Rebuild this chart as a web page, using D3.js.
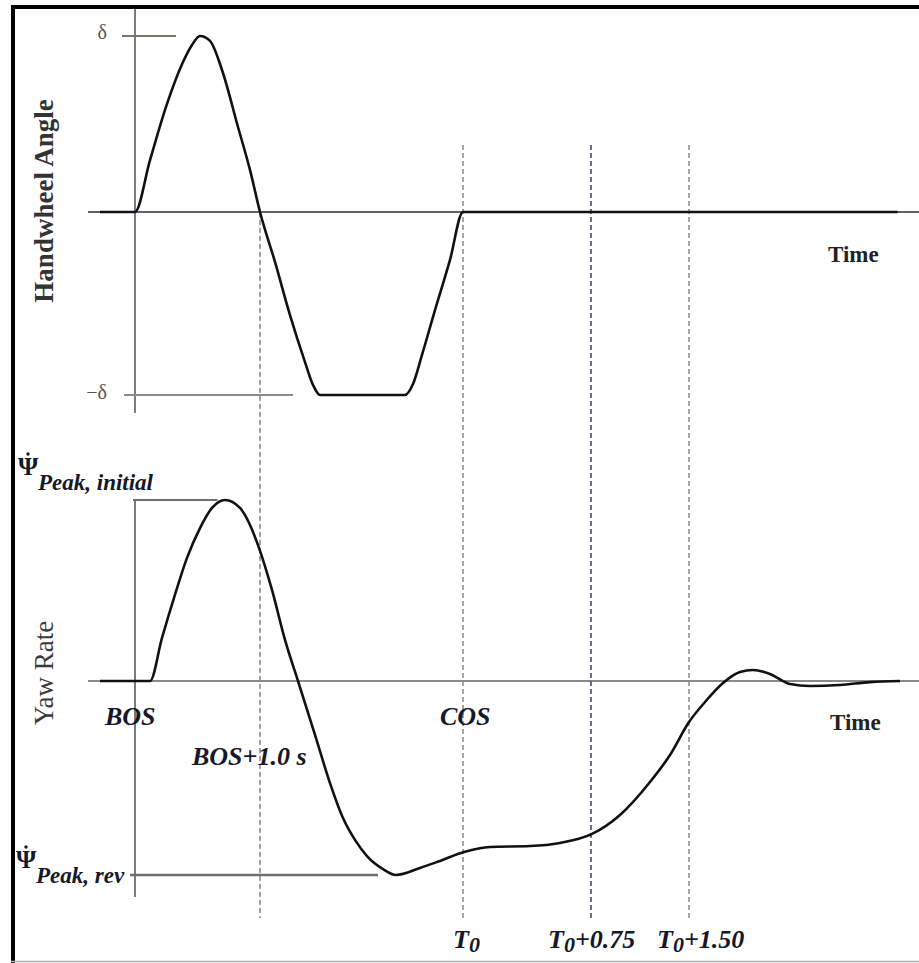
<!DOCTYPE html>
<html>
<head>
<meta charset="utf-8">
<script src="https://cdn.jsdelivr.net/npm/d3@7"></script>
<style>
  html, body { margin: 0; padding: 0; background: #fff; }
  svg { display: block; }
  text { font-family: "Liberation Serif", "DejaVu Serif", serif; }
</style>
</head>
<body>
<script>
// Time axis in seconds after BOS (schematic), amplitudes normalised
const handwheelTime  = [-0.28, 0, 0.12, 0.256, 0.384, 0.456, 0.52, 0.6, 0.696, 0.824, 0.92, 1.0,
                        1.12, 1.24, 1.36, 1.424, 1.48, 2.16, 2.224, 2.296, 2.4, 2.52, 2.624, 6.1];
const handwheelAngle = [0, 0, 0.295, 0.614, 0.852, 0.949, 1.0, 0.972, 0.807, 0.483, 0.239, 0,
                        -0.273, -0.563, -0.820, -0.945, -1, -1, -0.940, -0.781, -0.536, -0.262, 0, 0];

const yawTime = [-0.28, 0.12, 0.216, 0.312, 0.416, 0.52, 0.616, 0.72, 0.84, 0.92, 0.984, 1.096, 1.2, 1.304,
                 1.44, 1.56, 1.664, 1.76, 1.856, 1.984, 2.088,
                 2.28, 2.44, 2.632, 2.84, 3.16, 3.4, 3.656, 3.88, 4.12, 4.28, 4.432, 4.56, 4.704,
                 4.84, 4.944, 5.08, 5.24, 5.4, 5.64, 5.88, 6.12];
const yawRate = [0, 0, 0.238, 0.459, 0.680, 0.845, 0.956, 1.0, 0.956, 0.862, 0.751, 0.503, 0.227, 0,
                 -0.298, -0.564, -0.757, -0.878, -0.967, -1.039, -1.072,
                 -1.033, -0.994, -0.945, -0.917, -0.912, -0.895, -0.845, -0.740, -0.558, -0.409, -0.227, -0.116, -0.011,
                 0.050, 0.061, 0.039, -0.017, -0.028, -0.022, -0.006, 0];

const steerAmplitude = 1.0;        // δ
const yawPeakInitial = 1.0;        // Ψ̇ Peak, initial
const yawPeakRev = -1.072;         // Ψ̇ Peak, rev

const markerTimes  = [1.0, 2.624, 3.648, 4.432];   // BOS+1.0 s, T0, T0+0.75, T0+1.50
const markerLabels = ["", "T", "T", "T"];
const markerSuffix = ["", "", "+0.75", "+1.50"];

const W = 919, H = 963;
const svg = d3.select("body").append("svg").attr("width", W).attr("height", H);

const x = d3.scaleLinear().domain([0, 1]).range([135, 260]);
const yTop = d3.scaleLinear().domain([-1, 0, 1]).range([395, 212, 36]);
const yBot = d3.scaleLinear().domain([0, 1]).range([681, 500]);

const axisGrey = "#7a7a80";
const refGrey = "#77776c";

// frame
svg.append("line").attr("x1", 11).attr("x2", W).attr("y1", 7).attr("y2", 7)
  .attr("stroke", "#000").attr("stroke-width", 4);
svg.append("line").attr("x1", 13).attr("x2", 13).attr("y1", 5).attr("y2", H)
  .attr("stroke", "#000").attr("stroke-width", 4);
svg.append("line").attr("x1", 11).attr("x2", W).attr("y1", 961.5).attr("y2", 961.5)
  .attr("stroke", "#b0b0b0").attr("stroke-width", 1.5);

// vertical axes
svg.append("line").attr("x1", x(0)).attr("x2", x(0)).attr("y1", 9).attr("y2", 413)
  .attr("stroke", axisGrey).attr("stroke-width", 2);
svg.append("line").attr("x1", x(0)).attr("x2", x(0)).attr("y1", yBot(yawPeakInitial)).attr("y2", 897)
  .attr("stroke", axisGrey).attr("stroke-width", 2);

// zero lines
svg.append("line").attr("x1", 88).attr("x2", W).attr("y1", yTop(0)).attr("y2", yTop(0))
  .attr("stroke", "#5e6070").attr("stroke-width", 2);
svg.append("line").attr("x1", 88).attr("x2", W).attr("y1", yBot(0)).attr("y2", yBot(0))
  .attr("stroke", "#8a8a8e").attr("stroke-width", 2);

// reference levels
svg.append("line").attr("x1", x(-0.104)).attr("x2", x(0.328)).attr("y1", yTop(steerAmplitude)).attr("y2", yTop(steerAmplitude))
  .attr("stroke", refGrey).attr("stroke-width", 2);
svg.append("line").attr("x1", x(-0.088)).attr("x2", x(1.264)).attr("y1", yTop(-steerAmplitude)).attr("y2", yTop(-steerAmplitude))
  .attr("stroke", "#8c8c84").attr("stroke-width", 2);
svg.append("line").attr("x1", x(-0.016)).attr("x2", x(0.66)).attr("y1", yBot(yawPeakInitial)).attr("y2", yBot(yawPeakInitial))
  .attr("stroke", "#6e6e6e").attr("stroke-width", 2);
svg.append("line").attr("x1", x(-0.04)).attr("x2", x(1.944)).attr("y1", yBot(yawPeakRev)).attr("y2", yBot(yawPeakRev))
  .attr("stroke", "#6e6e6e").attr("stroke-width", 2.5);

// dashed time markers
markerTimes.forEach((t, i) => {
  svg.append("line")
    .attr("x1", x(t)).attr("x2", x(t))
    .attr("y1", i === 0 ? yTop(0) : 145).attr("y2", 918)
    .attr("stroke", i === 2 ? "#4a4c66" : "#8e8e96")
    .attr("stroke-width", 1.6)
    .attr("stroke-dasharray", "5,3");
});

// signal traces
const line = d3.line().x(d => x(d[0])).y(d => d[1]).curve(d3.curveMonotoneX);
svg.append("path")
  .attr("d", line(handwheelTime.map((t, i) => [t, yTop(handwheelAngle[i])])))
  .attr("fill", "none").attr("stroke", "#111").attr("stroke-width", 2.6).attr("stroke-linejoin", "round");
svg.append("path")
  .attr("d", line(yawTime.map((t, i) => [t, yBot(yawRate[i])])))
  .attr("fill", "none").attr("stroke", "#111").attr("stroke-width", 2.6).attr("stroke-linejoin", "round");

// axis titles
svg.append("text").attr("transform", "translate(53,201) rotate(-90)")
  .attr("text-anchor", "middle").attr("font-size", 27).attr("font-weight", "bold").attr("fill", "#333")
  .text("Handwheel Angle");
svg.append("text").attr("transform", "translate(53,673) rotate(-90)")
  .attr("text-anchor", "middle").attr("font-size", 27).attr("fill", "#3a3a3a")
  .text("Yaw Rate");
svg.append("text").attr("x", 828).attr("y", 262).attr("font-size", 23).attr("font-weight", "bold").attr("fill", "#222").text("Time");
svg.append("text").attr("x", 830).attr("y", 730).attr("font-size", 23).attr("font-weight", "bold").attr("fill", "#222").text("Time");

// δ levels
svg.append("text").attr("x", 107).attr("y", yTop(steerAmplitude) + 3).attr("text-anchor", "end")
  .attr("font-size", 20).attr("fill", "#555").text("δ");
svg.append("text").attr("x", 107).attr("y", yTop(-steerAmplitude) + 4).attr("text-anchor", "end")
  .attr("font-size", 20).attr("fill", "#555").text("−δ");

// yaw rate peak labels (Ψ with a rate dot)
const labelColor = "#14182a";
function psiLabel(xp, yBase, sub) {
  const g = svg.append("g");
  g.append("text").attr("x", xp).attr("y", yBase).attr("font-size", 26).attr("font-weight", "bold")
    .attr("fill", labelColor).text("Ψ");
  g.append("circle").attr("cx", xp + 10).attr("cy", yBase - 21).attr("r", 1.7).attr("fill", labelColor);
  g.append("text").attr("x", xp + 20).attr("y", yBase + 15).attr("font-size", 23).attr("font-weight", "bold")
    .attr("font-style", "italic").attr("fill", labelColor).text(sub);
}
psiLabel(18, 475, "Peak, initial");
psiLabel(16, 868, "Peak, rev");

// event labels
const ev = (txt, xp, yp) => svg.append("text").attr("x", xp).attr("y", yp).attr("font-size", 26)
  .attr("font-weight", "bold").attr("font-style", "italic").attr("fill", labelColor).text(txt);
ev("BOS", x(0) - 30, 725);
ev("BOS+1.0 s", x(markerTimes[0]) - 68, 765);
ev("COS", x(markerTimes[1]) - 23, 725);

const labelShift = [0, -10, -43, -32];
markerTimes.slice(1).forEach((t, k) => {
  const i = k + 1;
  const tx = svg.append("text").attr("y", 948).attr("font-size", 26).attr("font-weight", "bold")
    .attr("font-style", "italic").attr("fill", labelColor)
    .attr("x", x(t) + labelShift[i]);
  tx.append("tspan").text(markerLabels[i]);
  tx.append("tspan").attr("font-size", 22).attr("dy", 4).text("0");
  tx.append("tspan").attr("dy", -4).text(markerSuffix[i]);
});
</script>
</body>
</html>
